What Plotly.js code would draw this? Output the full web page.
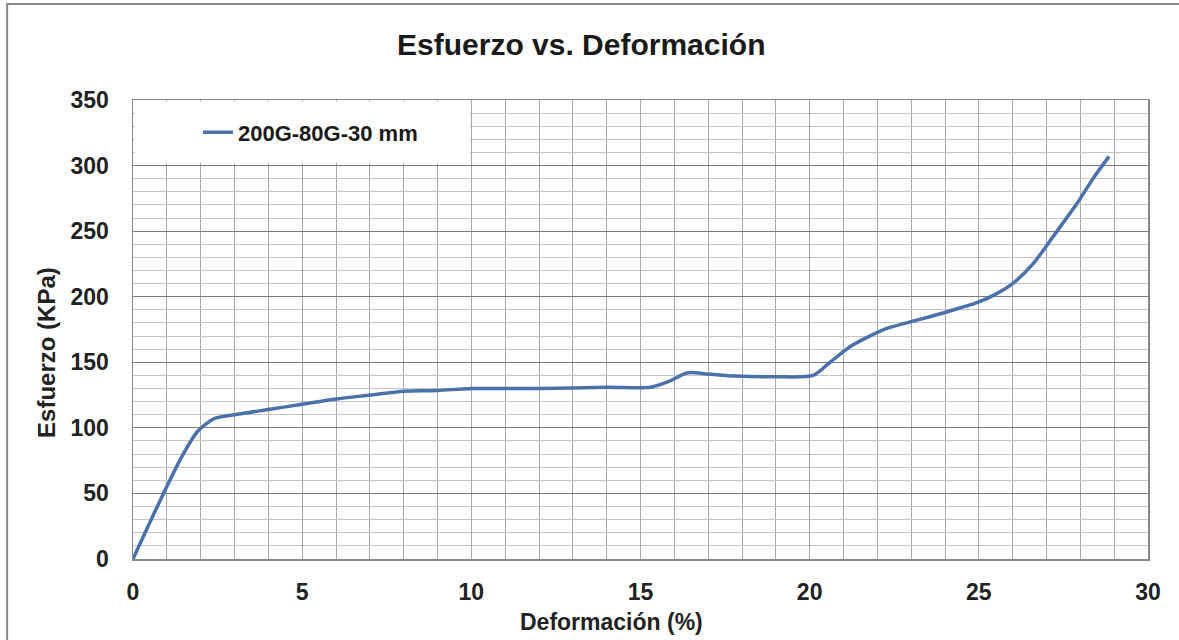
<!DOCTYPE html>
<html>
<head>
<meta charset="utf-8">
<script src="https://cdn.plot.ly/plotly-3.0.1.min.js"></script>
<style>html,body{margin:0;padding:0;background:#fff;}#chart{width:1179px;height:640px;}</style>
</head>
<body>
<div id="chart"></div>
<script>
var seriesName = "200G-80G-30 mm";
var deformacion = [0, 0.5, 0.9, 1.4, 1.9, 2.4, 3, 4, 5, 6, 7, 8, 9, 10, 12, 14, 15.3, 15.8, 16.4, 17, 17.8, 19, 20.1, 20.6, 21.2, 21.7, 22.3, 23, 24, 25, 25.5, 26, 26.6, 27.2, 27.9, 28.4, 28.85];
var esfuerzo = [0, 28, 50, 76, 97, 107, 110, 114, 118, 122, 125, 128, 128.5, 130, 130, 131, 131, 135, 142, 141, 139.5, 139, 140, 150, 162, 169, 176, 181, 188, 196, 202, 210, 225, 246, 271, 291, 307];
var xTicks = [0, 5, 10, 15, 20, 25, 30];
var yTicks = [0, 50, 100, 150, 200, 250, 300, 350];
var chartTitle = "Esfuerzo vs. Deformación";
var xTitle = "Deformación (%)";
var yTitle = "Esfuerzo (KPa)";

var font = "Liberation Sans, Arial, sans-serif";
var trace = {
  x: deformacion, y: esfuerzo, name: seriesName, type: "scatter", mode: "lines",
  line: {color: "#4a71a9", width: 3.5, shape: "spline", smoothing: 0.7},
  showlegend: true
};
var layout = {
  width: 1179, height: 640,
  margin: {l: 133, r: 31, t: 100, b: 81},
  paper_bgcolor: "#ffffff", plot_bgcolor: "#ffffff",
  showlegend: true,
  title: {text: chartTitle, x: 0.493, xref: "container", xanchor: "center", y: 0.93, yref: "container", yanchor: "middle",
    font: {family: font, size: 30, color: "#1a1a1a", weight: "bold"}},
  font: {family: font, color: "#222"},
  xaxis: {
    range: [0, 30], tickvals: xTicks, ticks: "", ticklabelstandoff: 12,
    tickfont: {family: font, size: 23, color: "#222", weight: "bold"},
    showgrid: true, gridcolor: "#a8a8a8", gridwidth: 1,
    minor: {dtick: 1, showgrid: true, gridcolor: "#a8a8a8", gridwidth: 1},
    showline: true, linecolor: "#888", linewidth: 1.5, mirror: true, zeroline: false
  },
  yaxis: {
    range: [0, 350], tickvals: yTicks, ticks: "", ticklabelstandoff: 18,
    tickfont: {family: font, size: 23, color: "#222", weight: "bold"},
    showgrid: true, gridcolor: "#7a7a7a", gridwidth: 1,
    minor: {dtick: 10, showgrid: true, gridcolor: "#c4c4c4", gridwidth: 1},
    showline: true, linecolor: "#888", linewidth: 1.5, mirror: true, zeroline: false
  },
  annotations: [
    {text: xTitle, xref: "paper", yref: "paper", x: 0.471, y: -0.137, xanchor: "center", yanchor: "middle", showarrow: false,
      font: {family: font, size: 23, color: "#222", weight: "bold"}},
    {text: yTitle, xref: "paper", yref: "paper", x: -0.0847, y: 0.449, xanchor: "center", yanchor: "middle", showarrow: false, textangle: -90,
      font: {family: font, size: 24, color: "#222", weight: "bold"}}
  ],
  legend: {x: 0.064, y: 0.975, xanchor: "left", yanchor: "top", bgcolor: "rgba(0,0,0,0)",
    font: {family: font, size: 22, color: "#1a1a1a", weight: "bold"}, itemwidth: 30},
  shapes: [
    {type: "rect", xref: "paper", yref: "paper", x0: 0.002, x1: 0.332, y0: 0.863, y1: 0.997, layer: "above",
      fillcolor: "#ffffff", line: {width: 0}},
    {type: "rect", xref: "paper", yref: "paper", x0: -0.124, x1: 1.05, y0: -0.2, y1: 1.209, layer: "above",
      fillcolor: "rgba(0,0,0,0)", line: {color: "#8a8a8a", width: 2}}
  ]
};
Plotly.newPlot("chart", [trace], layout, {displayModeBar: false, staticPlot: true});
</script>
</body>
</html>
